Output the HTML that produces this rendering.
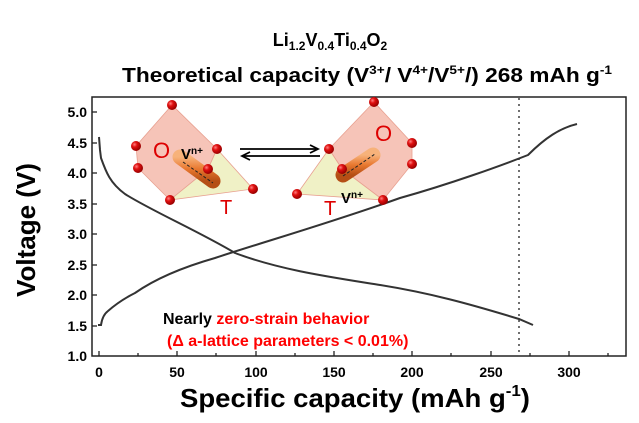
<html><body style="margin:0;background:#fff;width:639px;height:423px;overflow:hidden">
<svg width="639" height="423" viewBox="0 0 639 423" xmlns="http://www.w3.org/2000/svg" font-family="Liberation Sans, Arial, sans-serif" font-weight="bold">
<defs>
<radialGradient id="ball" cx="35%" cy="35%" r="65%"><stop offset="0" stop-color="#ff8080"/><stop offset="0.4" stop-color="#e01010"/><stop offset="1" stop-color="#900"/></radialGradient>
<linearGradient id="rod" x1="0" y1="0" x2="0" y2="1"><stop offset="0" stop-color="#f7b27a"/><stop offset="0.5" stop-color="#e8782f"/><stop offset="1" stop-color="#b54e15"/></linearGradient>
</defs>
<text x="330" y="46" text-anchor="middle" font-size="18">Li<tspan font-size="12" dy="4">1.2</tspan><tspan dy="-4">V</tspan><tspan font-size="12" dy="4">0.4</tspan><tspan dy="-4">Ti</tspan><tspan font-size="12" dy="4">0.4</tspan><tspan dy="-4">O</tspan><tspan font-size="12" dy="4">2</tspan></text>
<text x="122" y="82" font-size="20" textLength="490" lengthAdjust="spacingAndGlyphs">Theoretical capacity (V<tspan font-size="12" dy="-8">3+</tspan><tspan dy="8">/ V</tspan><tspan font-size="12" dy="-8">4+</tspan><tspan dy="8">/V</tspan><tspan font-size="12" dy="-8">5+</tspan><tspan dy="8">/) 268 mAh g</tspan><tspan font-size="12" dy="-8">-1</tspan></text>
<rect x="92" y="97" width="534" height="259" fill="none" stroke="#222" stroke-width="1.5"/>
<g stroke="#222" stroke-width="1.3">
<line x1="99" y1="356" x2="99" y2="351"/><line x1="177" y1="356" x2="177" y2="351"/><line x1="256" y1="356" x2="256" y2="351"/><line x1="334" y1="356" x2="334" y2="351"/><line x1="412" y1="356" x2="412" y2="351"/><line x1="491" y1="356" x2="491" y2="351"/><line x1="569" y1="356" x2="569" y2="351"/>
<line x1="138" y1="356" x2="138" y2="353"/><line x1="216" y1="356" x2="216" y2="353"/><line x1="295" y1="356" x2="295" y2="353"/><line x1="373" y1="356" x2="373" y2="353"/><line x1="451" y1="356" x2="451" y2="353"/><line x1="530" y1="356" x2="530" y2="353"/><line x1="608" y1="356" x2="608" y2="353"/>
<line x1="92" y1="112" x2="97" y2="112"/><line x1="92" y1="143" x2="97" y2="143"/><line x1="92" y1="173" x2="97" y2="173"/><line x1="92" y1="204" x2="97" y2="204"/><line x1="92" y1="234" x2="97" y2="234"/><line x1="92" y1="265" x2="97" y2="265"/><line x1="92" y1="295" x2="97" y2="295"/><line x1="92" y1="326" x2="97" y2="326"/>
</g>
<g font-size="14" text-anchor="end"><text x="87" y="117">5.0</text><text x="87" y="148">4.5</text><text x="87" y="178">4.0</text><text x="87" y="209">3.5</text><text x="87" y="239">3.0</text><text x="87" y="270">2.5</text><text x="87" y="300">2.0</text><text x="87" y="331">1.5</text><text x="87" y="361">1.0</text></g>
<g font-size="14" text-anchor="middle"><text x="99" y="377">0</text><text x="177" y="377">50</text><text x="256" y="377">100</text><text x="334" y="377">150</text><text x="412" y="377">200</text><text x="491" y="377">250</text><text x="569" y="377">300</text></g>
<text x="355" y="407" text-anchor="middle" font-size="26" textLength="350" lengthAdjust="spacingAndGlyphs">Specific capacity (mAh g<tspan font-size="16" dy="-11">-1</tspan><tspan dy="11">)</tspan></text>
<text transform="translate(35,230) rotate(-90)" text-anchor="middle" font-size="26">Voltage (V)</text>
<line x1="519" y1="98" x2="519" y2="356" stroke="#222" stroke-width="1.3" stroke-dasharray="2,4"/>
<path d="M99,137 L100,150 L101,158 C106,172 110,183 125,194 C150,210 200,232 235,253 C280,270 330,277 380,285 C430,293 470,304 519,319 L533,325" fill="none" stroke="#333" stroke-width="2"/>
<path d="M98,325 L101,325 C102,318 104,314 108,311 C116,304 125,298 135,293 C155,279 180,268 215,258 C260,243 330,223 400,198 C450,184 500,166 528,155 C545,138 560,128 577,124" fill="none" stroke="#333" stroke-width="2"/>
<text x="163" y="324" font-size="16">Nearly <tspan fill="#f00">zero-strain behavior</tspan></text>
<text x="167" y="346" font-size="16" fill="#f00">(Δ a-lattice parameters  &lt; 0.01%)</text>
<g stroke="#e8a090" stroke-width="0.8">
<polygon points="172,105 136,146 138,168 170,200 208,169 217,149" fill="#f3b0a0" fill-opacity="0.75"/>
<polygon points="217,149 253,189 170,200 208,169" fill="#eef0c0" fill-opacity="0.9"/>
</g>
<line x1="180" y1="157" x2="213" y2="181" stroke="url(#rod)" stroke-width="15" stroke-linecap="round"/>
<line x1="183" y1="162" x2="213" y2="183" stroke="#222" stroke-width="1" stroke-dasharray="3,2"/>
<g fill="url(#ball)"><circle cx="172" cy="105" r="5"/><circle cx="136" cy="146" r="5"/><circle cx="138" cy="168" r="5"/><circle cx="217" cy="149" r="5"/><circle cx="208" cy="169" r="5"/><circle cx="170" cy="200" r="5"/><circle cx="253" cy="189" r="5"/></g>
<text x="153" y="158" font-size="22" fill="#d00" font-weight="normal">O</text>
<text x="181" y="159" font-size="15">V<tspan font-size="10" dy="-5">n+</tspan></text>
<text x="220" y="214" font-size="20" fill="#d00" font-weight="normal">T</text>
<g stroke="#000" stroke-width="1.8"><line x1="240" y1="149" x2="316" y2="149"/><polyline points="310,145 318,149 310,153" fill="none"/><line x1="244" y1="156" x2="320" y2="156"/><polyline points="250,152 242,156 250,160" fill="none"/></g>
<g stroke="#e8a090" stroke-width="0.8">
<polygon points="374,102 329,149 342,169 383,200 412,164 412,143" fill="#f3b0a0" fill-opacity="0.75"/>
<polygon points="329,149 297,194 383,200 342,169" fill="#eef0c0" fill-opacity="0.9"/>
</g>
<line x1="343" y1="175" x2="373" y2="155" stroke="url(#rod)" stroke-width="15" stroke-linecap="round"/>
<line x1="343" y1="176" x2="375" y2="154" stroke="#222" stroke-width="1" stroke-dasharray="3,2"/>
<g fill="url(#ball)"><circle cx="374" cy="102" r="5"/><circle cx="329" cy="149" r="5"/><circle cx="412" cy="143" r="5"/><circle cx="412" cy="164" r="5"/><circle cx="342" cy="169" r="5"/><circle cx="297" cy="194" r="5"/><circle cx="383" cy="200" r="5"/></g>
<text x="375" y="141" font-size="22" fill="#d00" font-weight="normal">O</text>
<text x="341" y="203" font-size="15">V<tspan font-size="10" dy="-5">n+</tspan></text>
<text x="324" y="215" font-size="20" fill="#d00" font-weight="normal">T</text>
</svg>
</body></html>
